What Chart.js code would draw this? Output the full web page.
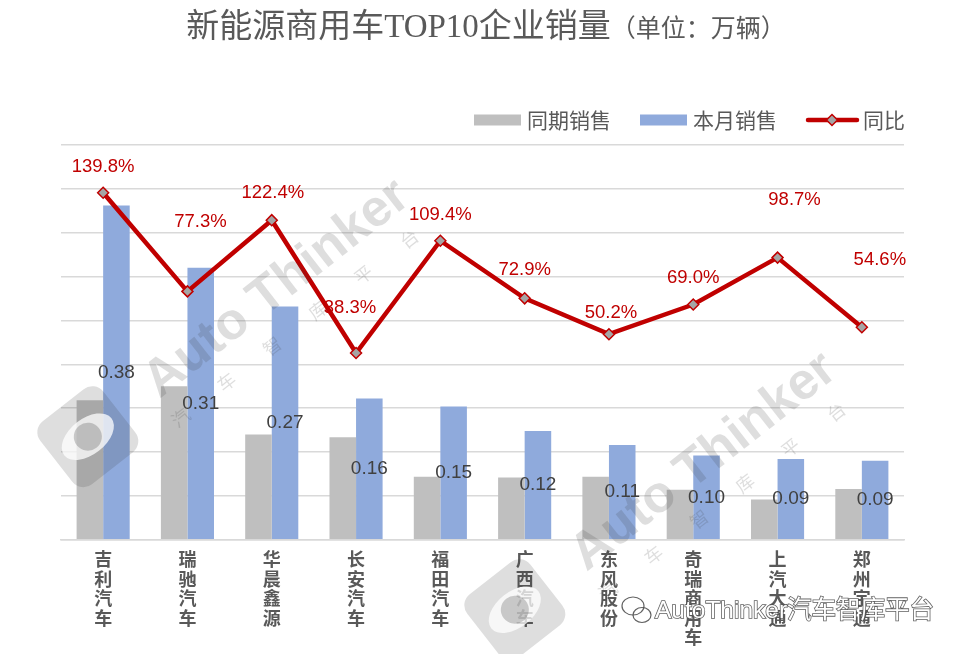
<!DOCTYPE html>
<html>
<head>
<meta charset="utf-8">
<script src="https://cdn.jsdelivr.net/npm/chart.js@4.4.0/dist/chart.umd.min.js"></script>
<style>
  html, body { margin: 0; padding: 0; background: #fff; }
  canvas { display: block; }
</style>
</head>
<body>
<canvas id="salesChart" width="967" height="654"></canvas>
<script>
// chart data (单位：万辆)
const companies = [
    ['吉', '利', '汽', '车'],
    ['瑞', '驰', '汽', '车'],
    ['华', '晨', '鑫', '源'],
    ['长', '安', '汽', '车'],
    ['福', '田', '汽', '车'],
    ['广', '西', '汽', '车'],
    ['东', '风', '股', '份'],
    ['奇', '瑞', '商', '用', '车'],
    ['上', '汽', '大', '通'],
    ['郑', '州', '宇', '通']
];
const lastYearSales = [0.159, 0.175, 0.120, 0.117, 0.072, 0.071, 0.072, 0.057, 0.046, 0.058];
const thisMonthSales = [0.381, 0.310, 0.266, 0.161, 0.152, 0.124, 0.108, 0.096, 0.092, 0.090];
const yoyGrowth = [139.8, 77.3, 122.4, 38.3, 109.4, 72.9, 50.2, 69.0, 98.7, 54.6];
const legendNames = ['同期销售', '本月销售', '同比'];

// label nudges for the 同比 labels (style only)
const yoyLabelShift = [[0, -26], [13, -69], [1, -27], [-6, -45], [0, -26], [0, -28], [2, -21], [0, -27], [17, -58], [18, -67]];

const CJK = '"Noto Sans CJK SC", "Noto Sans", sans-serif';
const LATIN = '"Liberation Sans", Arial, "Noto Sans CJK SC", sans-serif';
const GRAY_BAR = '#BFBFBF';
const BLUE_BAR = '#8FAADC';
const RED = '#C00000';

function drawWatermark(ctx, cx, cy) {
    ctx.save();
    ctx.translate(cx, cy);
    ctx.rotate(-38 * Math.PI / 180);
    ctx.fillStyle = 'rgba(60,60,60,0.17)';
    ctx.textAlign = 'center';
    ctx.textBaseline = 'middle';
    ctx.font = 'bold 52px ' + LATIN;
    ctx.fillText('Auto Thinker', 5, 0);
    ctx.font = '18px ' + CJK;
    const chars = ['汽', '车', '智', '库', '平', '台'];
    chars.forEach((ch, i) => ctx.fillText(ch, -150 + i * 58, 42));

    // logo: rounded square with an eye
    const lx = -235, s = 80, r = 14;
    ctx.beginPath();
    ctx.roundRect(lx - s / 2, -s / 2, s, s, r);
    ctx.fill();
    ctx.fillStyle = 'rgba(255,255,255,0.75)';
    ctx.beginPath();
    ctx.ellipse(lx, 0, 30, 18, 0, 0, Math.PI * 2);
    ctx.fill();
    ctx.fillStyle = 'rgba(60,60,60,0.25)';
    ctx.beginPath();
    ctx.arc(lx, 0, 14, 0, Math.PI * 2);
    ctx.fill();
    ctx.restore();
}

function drawBrand(ctx) {
    ctx.save();
    // wechat-ish icon
    ctx.strokeStyle = 'rgba(70,70,70,0.85)';
    ctx.lineWidth = 1.2;
    ctx.beginPath();
    ctx.ellipse(633, 606, 11, 9, 0, 0, Math.PI * 2);
    ctx.stroke();
    ctx.beginPath();
    ctx.ellipse(642, 615, 9, 7.5, 0, 0, Math.PI * 2);
    ctx.stroke();
    ctx.font = '24.5px ' + LATIN;
    ctx.textBaseline = 'middle';
    ctx.textAlign = 'left';
    ctx.lineWidth = 1.6;
    ctx.strokeStyle = 'rgba(80,80,80,0.9)';
    ctx.strokeText('AutoThinker汽车智库平台', 655, 611);
    ctx.fillStyle = '#ffffff';
    ctx.fillText('AutoThinker汽车智库平台', 655, 611);
    ctx.restore();
}

const decorPlugin = {
    id: 'decor',
    afterDatasetsDraw(chart) {
        const ctx = chart.ctx;
        ctx.save();
        ctx.textAlign = 'center';
        ctx.textBaseline = 'middle';

        // values in the middle of the blue bars
        const barMeta = chart.getDatasetMeta(2);
        ctx.font = '19px ' + LATIN;
        ctx.fillStyle = '#404040';
        barMeta.data.forEach((bar, i) => {
            const yMid = (bar.y + bar.base) / 2;
            ctx.fillText(thisMonthSales[i].toFixed(2), bar.x, yMid);
        });

        // 同比 labels
        const lineMeta = chart.getDatasetMeta(0);
        ctx.font = '18.5px ' + LATIN;
        ctx.fillStyle = RED;
        lineMeta.data.forEach((pt, i) => {
            const [dx, dy] = yoyLabelShift[i];
            ctx.fillText(yoyGrowth[i].toFixed(1) + '%', pt.x + dx, pt.y + dy);
        });
        ctx.restore();
    },
    afterDraw(chart) {
        const ctx = chart.ctx;
        ctx.save();

        // title
        const mainTitle = '新能源商用车TOP10企业销量';
        const unitTitle = '（单位：万辆）';
        const mainFont = '33px "Liberation Serif", "DejaVu Serif", "Noto Sans CJK SC", serif';
        const unitFont = '25px "Liberation Serif", "Noto Sans CJK SC", serif';
        ctx.font = mainFont;
        const w1 = ctx.measureText(mainTitle).width;
        ctx.font = unitFont;
        const w2 = ctx.measureText(unitTitle).width;
        let tx = 486 - (w1 + w2) / 2;
        ctx.textBaseline = 'middle';
        ctx.textAlign = 'left';
        ctx.fillStyle = '#595959';
        ctx.font = mainFont;
        ctx.fillText(mainTitle, tx, 28);
        ctx.font = unitFont;
        ctx.fillText(unitTitle, tx + w1, 30);

        // legend
        ctx.font = '21px ' + CJK;
        let lx = 474;
        const ly = 120;
        [GRAY_BAR, BLUE_BAR].forEach((c, i) => {
            ctx.fillStyle = c;
            ctx.fillRect(lx, ly - 5.5, 47, 11);
            ctx.fillStyle = '#595959';
            ctx.fillText(legendNames[i], lx + 53, ly);
            lx += 53 + ctx.measureText(legendNames[i]).width + 29;
        });
        ctx.strokeStyle = RED;
        ctx.lineWidth = 4.5;
        ctx.lineCap = 'round';
        ctx.beginPath();
        ctx.moveTo(lx + 2, ly);
        ctx.lineTo(lx + 51, ly);
        ctx.stroke();
        ctx.fillStyle = '#A5A5A5';
        ctx.strokeStyle = RED;
        ctx.lineWidth = 1.5;
        ctx.beginPath();
        ctx.moveTo(lx + 26, ly - 5.5);
        ctx.lineTo(lx + 31.5, ly);
        ctx.lineTo(lx + 26, ly + 5.5);
        ctx.lineTo(lx + 20.5, ly);
        ctx.closePath();
        ctx.fill();
        ctx.stroke();
        ctx.fillStyle = '#595959';
        ctx.fillText(legendNames[2], lx + 57, ly);
        ctx.restore();

        drawWatermark(ctx, 273, 292);
        drawWatermark(ctx, 700, 465);
        drawBrand(ctx);
    }
};

const ctx = document.getElementById('salesChart').getContext('2d');
new Chart(ctx, {
    type: 'bar',
    data: {
        labels: companies,
        datasets: [
            {
                type: 'line',
                label: legendNames[2],
                data: yoyGrowth,
                yAxisID: 'y2',
                borderColor: RED,
                borderWidth: 4.5,
                tension: 0,
                pointStyle: 'rectRot',
                pointRadius: 5.5,
                pointBackgroundColor: '#A5A5A5',
                pointBorderColor: RED,
                pointBorderWidth: 1.5,
                order: 0
            },
            {
                label: legendNames[0],
                data: lastYearSales,
                backgroundColor: GRAY_BAR,
                barPercentage: 1,
                categoryPercentage: 0.63,
                order: 1
            },
            {
                label: legendNames[1],
                data: thisMonthSales,
                backgroundColor: BLUE_BAR,
                barPercentage: 1,
                categoryPercentage: 0.63,
                order: 1
            }
        ]
    },
    options: {
        responsive: false,
        animation: false,
        layout: { padding: { left: 61, right: 63, top: 145, bottom: -3 } },
        plugins: {
            legend: { display: false },
            tooltip: { enabled: false },
            title: { display: false }
        },
        scales: {
            x: {
                grid: { display: false, drawTicks: false },
                border: { display: true, color: '#d9d9d9', width: 1.5 },
                ticks: {
                    color: '#595959',
                    font: { family: CJK, size: 18, weight: 'bold', lineHeight: 1.08 },
                    padding: 10,
                    maxRotation: 0,
                    autoSkip: false
                }
            },
            y: {
                min: 0,
                max: 0.45,
                ticks: { display: false, stepSize: 0.05 },
                grid: { color: '#d9d9d9', lineWidth: 1.5, drawTicks: false },
                border: { display: false }
            },
            y2: {
                position: 'right',
                min: -80,
                max: 170,
                display: false
            }
        }
    },
    plugins: [decorPlugin]
});
</script>
</body>
</html>
